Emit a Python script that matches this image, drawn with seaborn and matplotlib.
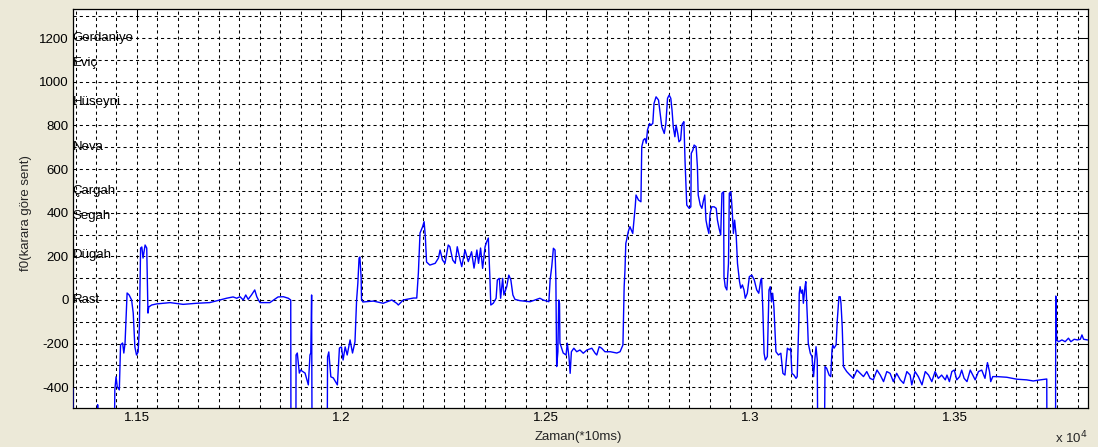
import matplotlib
matplotlib.use("Agg")
import matplotlib.pyplot as plt
import numpy as np
import pandas as pd
import seaborn as sns
from matplotlib.ticker import MultipleLocator, FuncFormatter

# Pitch track: time (in 10 ms frames) and f0 in cents relative to the tonic (karar).
# Unvoiced stretches are written as -1200 so the trace falls off the bottom of the axes.
time = [
    11343, 11345, 11398, 11404, 11410, 11442, 11446, 11449, 11452, 11457,
    11460, 11465, 11468, 11471, 11476, 11481, 11487, 11491, 11495, 11499,
    11503, 11506, 11509, 11512, 11515, 11520, 11524, 11527, 11529, 11536,
    11548, 11581, 11613, 11646, 11678, 11703, 11719, 11735, 11744, 11752,
    11760, 11766, 11772, 11780, 11788, 11793, 11797, 11801, 11825, 11845,
    11858, 11870, 11876, 11877, 11888, 11889, 11892, 11897, 11900, 11911,
    11919, 11923, 11925, 11927, 11929, 11964, 11966, 11969, 11974, 11980,
    11990, 11995, 12000, 12004, 12009, 12014, 12021, 12027, 12033, 12037,
    12040, 12043, 12045, 12048, 12049, 12053, 12078, 12102, 12123, 12135,
    12139, 12151, 12176, 12184, 12188, 12192, 12198, 12202, 12205, 12208,
    12216, 12229, 12237, 12241, 12247, 12253, 12261, 12265, 12272, 12278,
    12283, 12290, 12294, 12302, 12310, 12318, 12324, 12331, 12335, 12340,
    12345, 12351, 12355, 12359, 12363, 12365, 12371, 12378, 12381, 12386,
    12389, 12394, 12397, 12404, 12409, 12414, 12419, 12424, 12436, 12461,
    12473, 12485, 12493, 12507, 12510, 12514, 12518, 12522, 12524, 12526,
    12529, 12531, 12533, 12534, 12537, 12542, 12549, 12552, 12556, 12559,
    12562, 12568, 12575, 12583, 12591, 12600, 12612, 12620, 12624, 12630,
    12636, 12644, 12657, 12673, 12681, 12688, 12691, 12693, 12695, 12697,
    12701, 12705, 12712, 12718, 12720, 12726, 12732, 12734, 12738, 12742,
    12745, 12748, 12753, 12756, 12761, 12764, 12769, 12775, 12779, 12783,
    12789, 12793, 12797, 12801, 12805, 12808, 12811, 12815, 12818, 12822,
    12825, 12829, 12832, 12834, 12837, 12840, 12844, 12850, 12854, 12855,
    12859, 12862, 12867, 12870, 12872, 12877, 12881, 12885, 12888, 12891,
    12894, 12898, 12901, 12905, 12911, 12916, 12919, 12923, 12927, 12930,
    12934, 12935, 12938, 12942, 12946, 12948, 12952, 12955, 12958, 12961,
    12965, 12968, 12973, 12976, 12980, 12984, 12987, 12992, 12997, 13003,
    13009, 13015, 13020, 13025, 13027, 13030, 13033, 13036, 13041, 13045,
    13048, 13051, 13054, 13057, 13062, 13068, 13074, 13079, 13084, 13090,
    13095, 13098, 13101, 13106, 13111, 13114, 13118, 13119, 13121, 13124,
    13127, 13129, 13133, 13135, 13137, 13139, 13141, 13146, 13150, 13154,
    13157, 13160, 13163, 13166, 13178, 13182, 13186, 13192, 13196, 13199,
    13201, 13204, 13209, 13212, 13216, 13219, 13221, 13224, 13227, 13235,
    13243, 13251, 13260, 13268, 13276, 13284, 13292, 13300, 13309, 13317,
    13325, 13333, 13341, 13349, 13357, 13366, 13374, 13382, 13390, 13394,
    13402, 13410, 13419, 13427, 13435, 13443, 13451, 13459, 13467, 13476,
    13480, 13486, 13492, 13498, 13504, 13511, 13516, 13522, 13529, 13537,
    13543, 13549, 13557, 13565, 13573, 13579, 13584, 13587, 13592, 13602,
    13626, 13651, 13675, 13691, 13708, 13724, 13725, 13745, 13746, 13748,
    13753, 13761, 13769, 13777, 13783, 13791, 13799, 13806, 13810, 13814,
    13824,
]
cents = [
    -403, -1200, -1200, -480, -1200, -1200, -412, -352, -398, -412,
    -206, -197, -243, -197, 32, 23, 0, -60, -215, -252,
    -238, -124, 238, 243, 192, 252, 238, -60, -32, -23,
    -18, -12, -20, -15, -12, 0, 8, 14, 8, 15,
    0, 23, 3, 23, 46, 15, 0, -12, -12, 14,
    15, 8, 0, -1200, -1200, -252, -243, -335, -321, -335,
    -389, -252, -243, 23, -1200, -1200, -261, -238, -352, -357,
    -389, -220, -215, -275, -215, -252, -183, -243, -192, 0,
    76, 192, 197, 105, 0, -9, -5, -15, 0, -15,
    -23, 0, 9, 9, 124, 307, 334, 359, 290, 174,
    160, 168, 192, 229, 183, 168, 252, 244, 183, 168,
    244, 183, 153, 229, 176, 221, 146, 229, 168, 238,
    145, 244, 267, 284, 92, -23, -15, 8, 92, 99,
    8, 99, 23, 61, 114, 92, 23, 3, -3, -8,
    0, 8, 0, -8, 92, 153, 237, 229, 107, -305,
    -237, 0, -15, -198, -214, -243, -252, -198, -259, -336,
    -237, -221, -237, -229, -244, -229, -221, -244, -252, -214,
    -221, -237, -237, -243, -237, -206, 61, 137, 259, 275,
    313, 336, 305, 427, 481, 458, 450, 702, 733, 740,
    718, 779, 809, 801, 809, 901, 931, 916, 855, 794,
    763, 809, 924, 939, 924, 870, 794, 748, 801, 763,
    725, 733, 801, 809, 817, 626, 435, 420, 427, 672,
    687, 710, 702, 611, 481, 435, 420, 458, 481, 366,
    336, 305, 397, 427, 427, 420, 366, 328, 298, 489,
    496, 107, 61, 46, 168, 489, 496, 412, 305, 366,
    290, 168, 84, 54, 69, 46, 8, 31, 107, 114,
    92, 46, 31, 92, 99, -46, -244, -275, -259, 46,
    61, -8, 31, -31, -237, -252, -244, -336, -344, -221,
    -229, -221, -336, -344, -359, -351, -92, 31, 61, 31,
    46, -15, 61, 84, 0, -92, -198, -244, -259, -351,
    -275, -214, -275, -1200, -1200, -305, -313, -344, -351, -229,
    -206, -221, -206, -92, 15, 15, -15, -122, -305, -328,
    -344, -359, -321, -336, -351, -328, -359, -366, -321, -344,
    -374, -328, -336, -374, -336, -366, -382, -328, -344, -389,
    -328, -351, -389, -328, -344, -374, -328, -359, -344, -366,
    -344, -374, -328, -321, -366, -351, -321, -359, -374, -321,
    -344, -366, -328, -321, -359, -287, -328, -374, -351, -351,
    -354, -363, -366, -371, -366, -362, -1200, -1200, 18, -183,
    -191, -183, -191, -175, -191, -180, -183, -180, -160, -180,
    -183,
]

# Makam note names and their positions in cents above Rast
note_names = ["Gerdaniye", "Eviç", "Hüseyni", "Neva", "Çargah", "Segah", "Dügah", "Rast"]
note_cents = [1200, 1086, 906, 702, 498, 384, 204, 0]

x_ticks = [11500, 12000, 12500, 13000, 13500]
y_ticks = [-400, -200, 0, 200, 400, 600, 800, 1000, 1200]

sns.set_style("white")
plt.rcParams["font.family"] = ["Liberation Sans", "DejaVu Sans"]

fig = plt.figure(figsize=(10.98, 4.47), dpi=100, facecolor="#ECE9D8")
ax = fig.add_axes([0.0662, 0.0872, 0.9244, 0.8920])
ax.set_facecolor("white")

df = pd.DataFrame({"t": time, "f0": cents})
sns.lineplot(data=df, x="t", y="f0", sort=False, estimator=None,
             color="#0000FF", linewidth=1.0, ax=ax, zorder=3)

ax.set_xlim(11343, 13824)
ax.set_ylim(-495, 1332)

ax.set_xticks(x_ticks)
ax.set_yticks(y_ticks)
ax.xaxis.set_minor_locator(MultipleLocator(50))
ax.yaxis.set_minor_locator(MultipleLocator(100))
ax.xaxis.set_major_formatter(FuncFormatter(lambda v, p: f"{v / 1e4:g}"))
ax.yaxis.set_major_formatter(FuncFormatter(lambda v, p: f"{v:g}"))

ax.grid(which="both", color="black", linestyle=(0, (3, 3)), linewidth=0.75)
ax.set_axisbelow(True)
ax.tick_params(which="major", direction="in", length=7, width=0.75,
               top=True, right=True, labelsize=9.5, pad=3, colors="black")
ax.tick_params(which="minor", length=0)
for s in ax.spines.values():
    s.set_color("black")
    s.set_linewidth(0.9)

for name, c in zip(note_names, note_cents):
    ax.text(11343, c, name, ha="left", va="center", fontsize=9.5,
            color="black", zorder=4)

ax.set_xlabel("Zaman(*10ms)", fontsize=9.5)
ax.set_ylabel("f0(karara göre sent)", fontsize=9.5)
ax.xaxis.set_label_coords(0.4986, -0.058)
ax.yaxis.set_label_coords(-0.040, 0.489)

# Scale factor of the time axis, tucked into the lower right corner
fig.text(1055 / 1098, 0.008, r"x 10$^4$", fontsize=9.5, ha="left", va="baseline")

fig.savefig("out.png", dpi=100, facecolor=fig.get_facecolor())
